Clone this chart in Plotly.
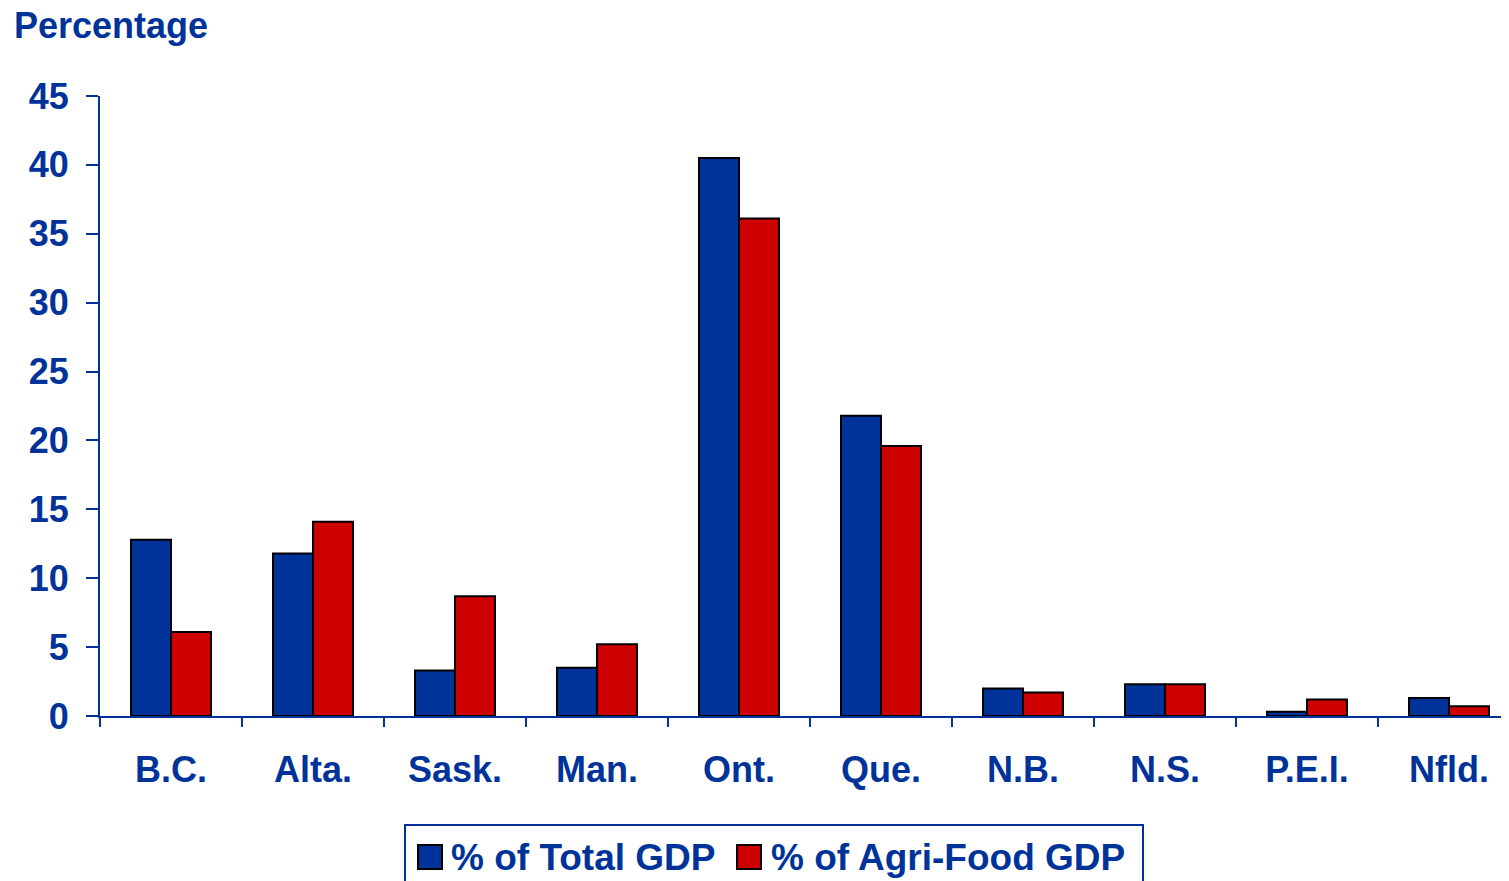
import plotly.graph_objects as go

provinces = ["B.C.", "Alta.", "Sask.", "Man.", "Ont.", "Que.", "N.B.", "N.S.", "P.E.I.", "Nfld."]
total_gdp = [12.8, 11.8, 3.3, 3.5, 40.5, 21.8, 2.0, 2.3, 0.3, 1.3]
agri_food_gdp = [6.1, 14.1, 8.7, 5.2, 36.1, 19.6, 1.7, 2.3, 1.2, 0.7]
series_names = ["% of Total GDP", "% of Agri-Food GDP"]
y_ticks = [0, 5, 10, 15, 20, 25, 30, 35, 40, 45]

BLUE = "#003399"
RED = "#CC0000"
FONT = "Arial, Liberation Sans, sans-serif"

OFF = 8  # page body margin
W, H = 1509 - OFF, 881 - OFF
L, R, T, B = 100 - OFF, 0, 96 - OFF, 881 - 716
PW = W - L - R
PH = H - T - B


def px(x):
    # screen pixel x -> paper
    return (x - OFF - L) / PW


def py(y):
    # screen pixel y -> paper
    return (H - B - (y - OFF)) / PH


fig = go.Figure()
fig.add_trace(go.Bar(x=provinces, y=total_gdp, name=series_names[0],
                     marker=dict(color=BLUE, line=dict(color="black", width=2))))
fig.add_trace(go.Bar(x=provinces, y=agri_food_gdp, name=series_names[1],
                     marker=dict(color=RED, line=dict(color="black", width=2))))

cat_w = 142.0
fig.update_layout(
    width=W, height=H,
    margin=dict(l=L, r=R, t=T, b=B, pad=0),
    paper_bgcolor="white", plot_bgcolor="white",
    barmode="group", bargap=1 - 80 / cat_w, bargroupgap=0,
    showlegend=False,
    font=dict(family=FONT, color=BLUE, size=36, weight="bold"),
    xaxis=dict(
        range=[-0.5, -0.5 + PW / cat_w],
        showline=True, linecolor=BLUE, linewidth=2,
        ticks="outside", ticklen=9, tickwidth=2, tickcolor=BLUE,
        tickson="boundaries", showgrid=False, zeroline=False,
        tickfont=dict(family=FONT, size=36, color=BLUE, weight="bold"),
        ticklabelstandoff=21,
    ),
    yaxis=dict(
        range=[0, 45], tickvals=y_ticks,
        showline=True, linecolor=BLUE, linewidth=2,
        ticks="outside", ticklen=12, tickwidth=2, tickcolor=BLUE,
        showgrid=False, zeroline=False,
        tickfont=dict(family=FONT, size=36, color=BLUE, weight="bold"),
        ticklabelstandoff=10,
    ),
)

# Title
fig.add_annotation(text="Percentage", xref="paper", yref="paper",
                   x=px(12), y=py(25), xanchor="left", yanchor="middle",
                   showarrow=False,
                   font=dict(family=FONT, size=36, color=BLUE, weight="bold"))

# Manual legend
fig.add_shape(type="rect", xref="paper", yref="paper",
              x0=px(405), x1=px(1143), y0=py(900), y1=py(825),
              line=dict(color=BLUE, width=2), fillcolor="white", layer="below")
legend_items = [(418, BLUE, 452), (737, RED, 772)]
for (sx, col, tx), name in zip(legend_items, series_names):
    fig.add_shape(type="rect", xref="paper", yref="paper",
                  x0=px(sx), x1=px(sx + 24), y0=py(869), y1=py(845),
                  line=dict(color="black", width=2), fillcolor=col)
    fig.add_annotation(text=name, xref="paper", yref="paper",
                       x=px(tx - 3), y=py(857), xanchor="left", yanchor="middle",
                       showarrow=False,
                       font=dict(family=FONT, size=37, color=BLUE, weight="bold"))

fig.write_html("out.html")
